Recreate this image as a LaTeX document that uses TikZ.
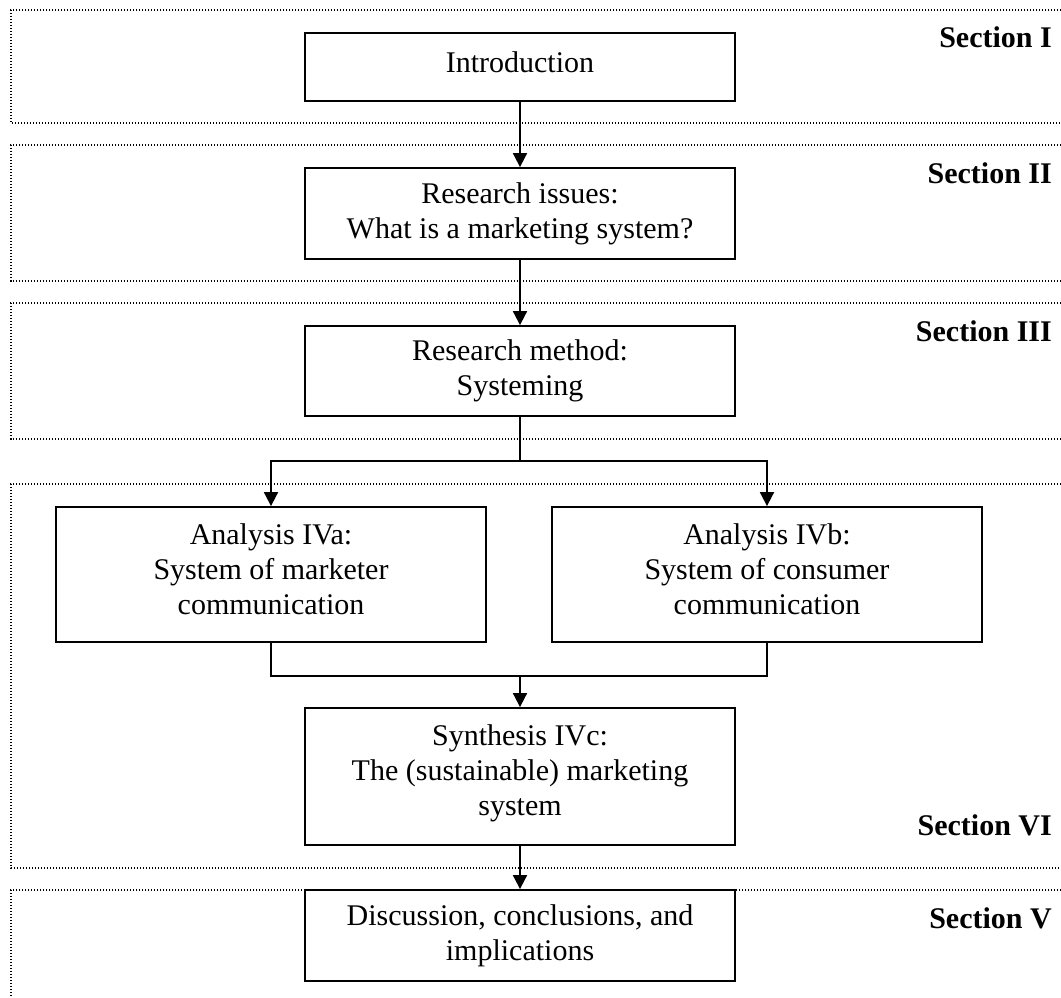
\documentclass[tikz,border=0pt]{standalone}
\usepackage{fontspec}
\setmainfont{Liberation Serif}
\usetikzlibrary{arrows.meta}
\begin{document}
\begin{tikzpicture}[x=1pt,y=-1pt,
  box/.style={draw, line width=1.8pt, fill=white, minimum width=430pt,
    align=center, inner sep=0pt, font=\fontsize{30}{35}\selectfont},
  frame/.style={line width=1.2pt, dash pattern=on 1.2pt off 1.8pt},
  conn/.style={line width=1.8pt},
  arr/.style={conn, -{Triangle[length=14pt,width=14pt]}},
  sec/.style={anchor=base east, inner sep=0pt,
    font=\fontsize{30}{35}\selectfont\bfseries}]
\useasboundingbox (0,0) rectangle (1061,998);

% dotted section frames, open towards the right
\draw[frame] (1061,10)  -- (11,10)  -- (11,123) -- (1061,123);
\draw[frame] (1061,145) -- (11,145) -- (11,281) -- (1061,281);
\draw[frame] (1061,303) -- (11,303) -- (11,439) -- (1061,439);
\draw[frame] (1061,484) -- (11,484) -- (11,868) -- (1061,868);
\draw[frame] (1061,890) -- (11,890) -- (11,998);

% section labels
\node[sec] (secI)   at (1052,48)  {Section I};
\node[sec] (secII)  at (1052,183) {Section II};
\node[sec] (secIII) at (1052,341) {Section III};
\node[sec] (secVI)  at (1052,835) {Section VI};
\node[sec] (secV)   at (1052,928) {Section V};

% process boxes
\node[box, minimum height=68pt, text depth=10pt] (intro) at (520,67) {Introduction};
\node[box, minimum height=91pt] (issues) at (520,213.5) {Research issues:\\What is a marketing system?};
\node[box, minimum height=90pt] (method) at (520,371) {Research method:\\Systeming};
\node[box, minimum height=135pt, text depth=11pt] (anaA) at (271,574.5) {Analysis IVa:\\System of marketer\\communication};
\node[box, minimum height=135pt, text depth=11pt] (anaB) at (767,574.5) {Analysis IVb:\\System of consumer\\communication};
\node[box, minimum height=137pt, text depth=13pt] (synth) at (520,776.5) {Synthesis IVc:\\The (sustainable) marketing\\system};
\node[box, minimum height=91pt] (disc) at (520,935.5) {Discussion, conclusions, and\\implications};

% connectors
\coordinate (split) at (520,461);
\coordinate (merge) at (520,676);
\draw[arr] (intro.south) -- (issues.north);
\draw[arr] (issues.south) -- (method.north);
\draw[arr] (method.south) -- (split) -| (anaA.north);
\draw[arr] (split) -| (anaB.north);
\draw[conn] (anaA.south) |- (merge) -| (anaB.south);
\draw[arr] (merge) -- (synth.north);
\draw[arr] (synth.south) -- (disc.north);
\end{tikzpicture}
\end{document}
